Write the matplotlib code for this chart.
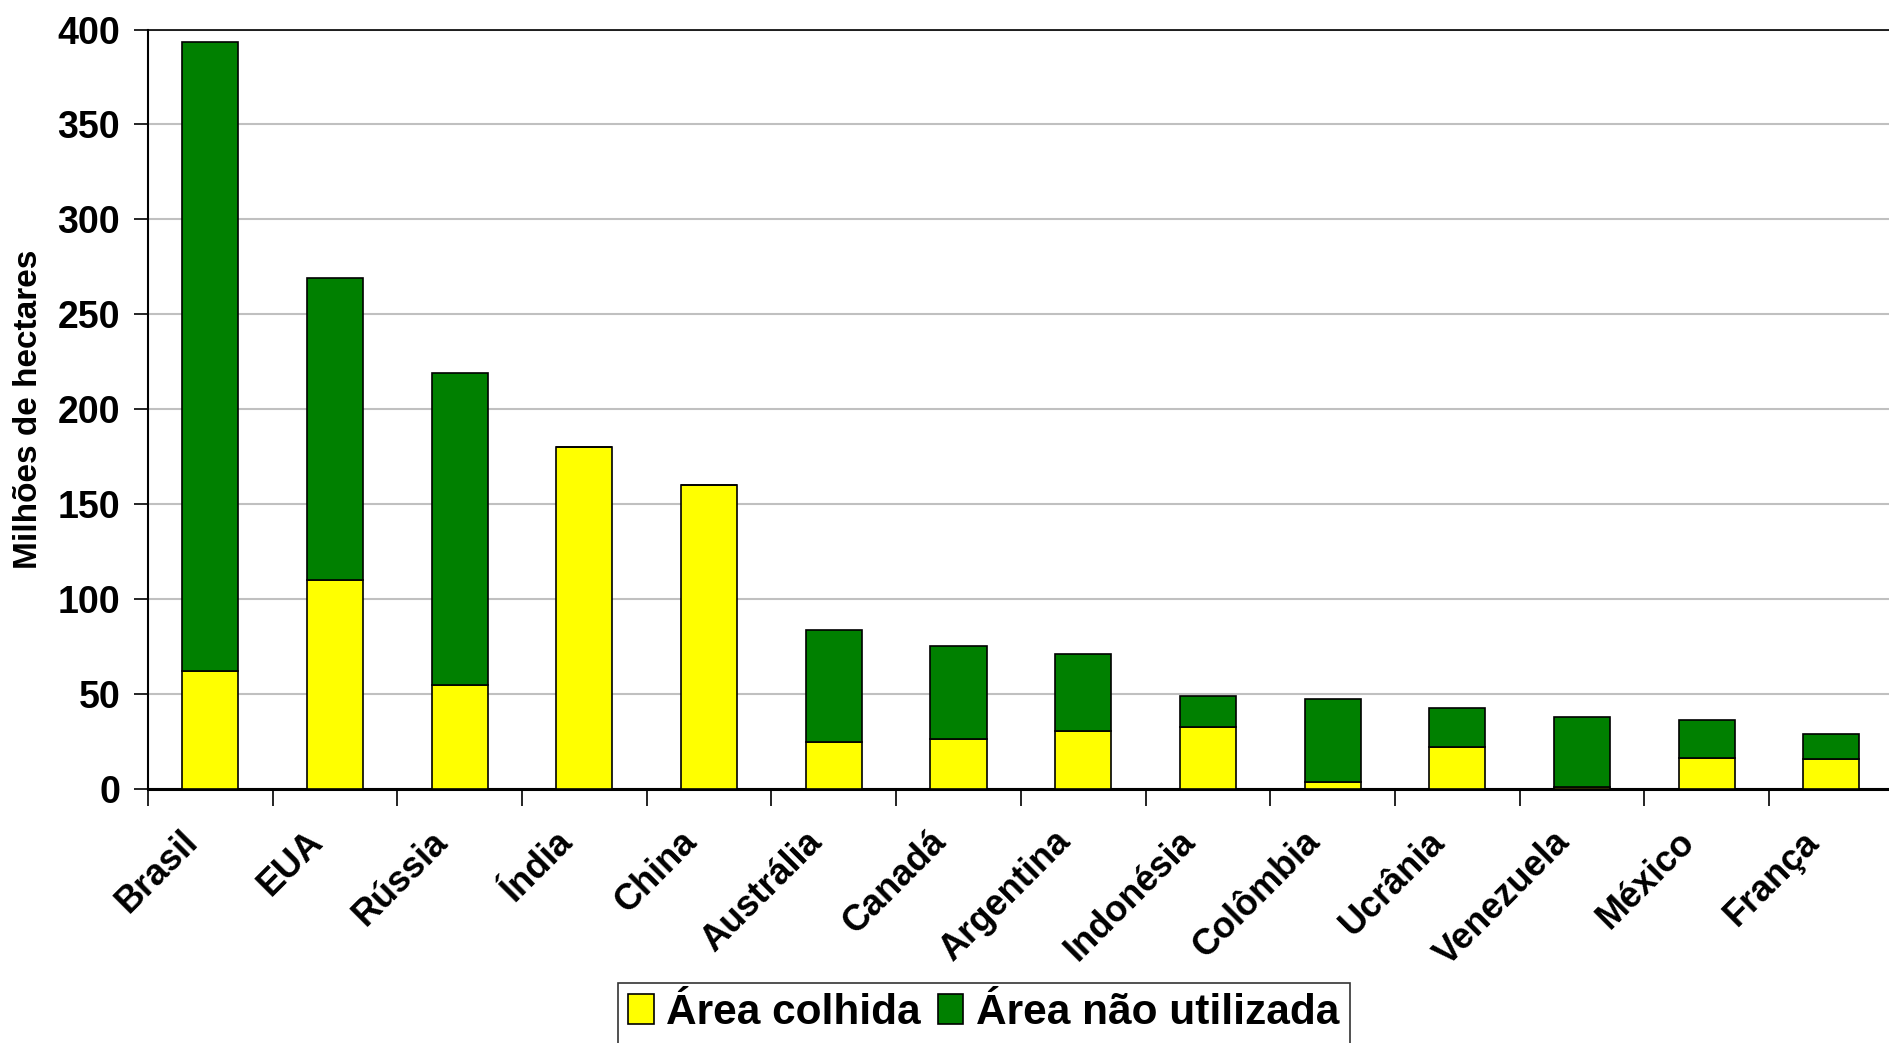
import numpy as np
import matplotlib
matplotlib.use("Agg")
import matplotlib.pyplot as plt
import matplotlib.transforms as mtransforms
from matplotlib.patches import Patch

plt.rcParams['font.family'] = ['Liberation Sans', 'DejaVu Sans']
plt.rcParams['font.weight'] = 'bold'

paises = ["Brasil", "EUA", "Rússia", "Índia", "China", "Austrália", "Canadá",
          "Argentina", "Indonésia", "Colômbia", "Ucrânia", "Venezuela",
          "México", "França"]
area_total = [393.5, 269.0, 219.4, 180.0, 160.0, 83.7, 75.4,
              71.4, 49.3, 47.7, 43.0, 38.2, 36.5, 29.3]
area_colhida = [62.4, 110.2, 54.9, 180.0, 160.0, 24.7, 26.5,
                30.5, 33.0, 3.7, 22.4, 1.4, 16.6, 15.8]
area_nao_utilizada = [t - c for t, c in zip(area_total, area_colhida)]

yticks = [0, 50, 100, 150, 200, 250, 300, 350, 400]

fig = plt.figure(figsize=(18.9, 10.43), dpi=100)
ax = fig.add_axes([0.0783, 0.2432, 0.9217 + 0.002, 0.9717 - 0.2432])

x = np.arange(len(paises))
w = 0.45
ax.bar(x, area_colhida, w, color="#FFFF00", edgecolor="black", linewidth=1.2,
       zorder=3, label="Área colhida")
ax.bar(x, area_nao_utilizada, w, bottom=area_colhida, color="#008000",
       edgecolor="black", linewidth=1.2, zorder=3, label="Área não utilizada")

ax.set_xlim(-0.5, len(paises) - 0.5)
ax.set_ylim(0, 400)
ax.set_yticks(yticks)
ax.set_yticklabels([str(v) for v in yticks], fontsize=27, fontweight='bold')
ax.yaxis.grid(True, color="#C0C0C0", linewidth=1.5, zorder=0)

# ticks on x between categories, labels at centers
ax.set_xticks(np.arange(len(paises) + 1) - 0.5)
ax.set_xticklabels([])
ax.set_xticks(x, minor=True)
ax.set_xticklabels(paises, minor=True, rotation=45, ha='right',
                   rotation_mode='anchor', fontsize=26, fontweight='bold')
ax.tick_params(axis='x', which='minor', length=0, pad=28)
ax.tick_params(axis='x', which='major', length=12, width=1.2, direction='out')
ax.tick_params(axis='y', length=10, width=1.2, direction='out', pad=10)

# nudge the rotated labels left, like the original
shift = mtransforms.ScaledTranslation(-0.30, 0.04, fig.dpi_scale_trans)
for lbl in ax.get_xticklabels(minor=True):
    lbl.set_transform(lbl.get_transform() + shift)

ax.spines['right'].set_visible(False)
ax.spines['bottom'].set_linewidth(2.2)
ax.spines['left'].set_linewidth(1.5)
ax.spines['top'].set_linewidth(1.2)

ax.set_ylabel("Milhões de hectares", fontsize=24, fontweight='bold', labelpad=10)

handles = [Patch(facecolor="#FFFF00", edgecolor="black", linewidth=1.2),
           Patch(facecolor="#008000", edgecolor="black", linewidth=1.2)]
leg = fig.legend(handles, ["Área colhida", "Área não utilizada"], ncol=2,
                 loc='upper center', bbox_to_anchor=(0.5205, 0.058),
                 fontsize=30.5, frameon=True, fancybox=False, edgecolor="black",
                 handlelength=0.6, handleheight=0.7, handletextpad=0.3,
                 columnspacing=0.4, borderpad=0.25, borderaxespad=0)
leg.get_frame().set_linewidth(1.2)
for t in leg.get_texts():
    t.set_fontweight('bold')

fig.savefig("out.png", dpi=100)
